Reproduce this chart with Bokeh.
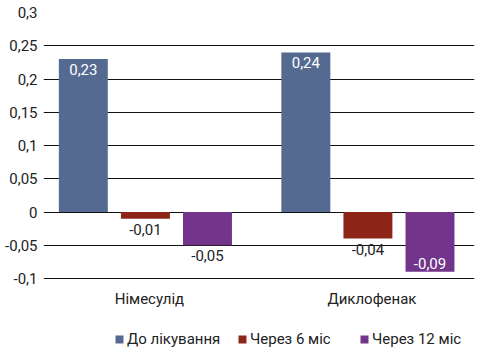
from bokeh.plotting import figure
from bokeh.models import ColumnDataSource, Range1d, FixedTicker, Legend, LegendItem
from bokeh.core.properties import value
from bokeh.embed import file_html
from bokeh.resources import INLINE

categories = ["Німесулід", "Диклофенак"]
series_names = ["До лікування", "Через 6 міс", "Через 12 міс"]
before = [0.23, 0.24]
after6 = [-0.01, -0.04]
after12 = [-0.05, -0.09]
y_ticks = [-0.1, -0.05, 0, 0.05, 0.1, 0.15, 0.2, 0.25, 0.3]

colors = ["#546a91", "#8c2417", "#72358b"]
offsets = [-0.279, 0.0, 0.279]
FONT = "Roboto"
TXT = "#222222"

def fmt(v):
    return ("%g" % v).replace(".", ",")

# frame spans the full lower area; -0.1 sits 76 px above the frame bottom
y_low = -0.1 - 76 / 665.0
p = figure(width=478, height=354, output_backend="svg", toolbar_location=None,
           x_range=Range1d(-0.458, 1.479), y_range=Range1d(y_low, 0.3),
           min_border_left=43, min_border_right=4, min_border_top=12, min_border_bottom=0)
p.outline_line_color = None
p.background_fill_color = "white"
p.border_fill_color = "white"

renderers = []
for j, (name, vals) in enumerate(zip(series_names, [before, after6, after12])):
    xs = [i + offsets[j] for i in range(len(categories))]
    src = ColumnDataSource(dict(x=xs, top=vals, bottom=[0] * len(vals)))
    r = p.vbar(x="x", top="top", bottom="bottom", width=0.22, source=src,
               fill_color=colors[j], line_color=None)
    renderers.append(r)
    for x, v in zip(xs, vals):
        inside = abs(v) >= 0.08
        if v > 0:
            base, off, col = "top", 5, "white"
        elif inside:
            base, off, col = "bottom", -3, "white"
        else:
            base, off, col = "top", 5, TXT
        p.text(x=[x], y=[v], text=[fmt(v)], text_align="center", text_baseline=base,
               y_offset=off, text_color=col, text_font=value(FONT), text_font_size="15px")

# category labels under the lowest grid line
p.text(x=list(range(len(categories))), y=[y_ticks[0]] * len(categories), text=categories,
       text_align="center", text_baseline="middle", x_offset=4, y_offset=20,
       text_color=TXT, text_font=value(FONT), text_font_size="15px")

p.xgrid.visible = False
p.ygrid.grid_line_color = "#111111"
p.ygrid.grid_line_width = 1
p.ygrid.ticker = FixedTicker(ticks=y_ticks)

p.xaxis.visible = False

p.yaxis.ticker = FixedTicker(ticks=y_ticks)
p.yaxis.major_label_overrides = {t: fmt(t) for t in y_ticks}
p.yaxis.axis_line_color = None
p.yaxis.major_tick_line_color = None
p.yaxis.minor_tick_line_color = None
p.yaxis.major_tick_out = 0
p.yaxis.major_tick_in = 0
p.yaxis.minor_tick_out = 0
p.yaxis.major_label_standoff = 6
p.yaxis.major_label_text_font = FONT
p.yaxis.major_label_text_font_size = "15px"
p.yaxis.major_label_text_color = TXT

# one legend entry per series, placed like the reference's evenly spaced columns
legend_x = [71, 194, 316]
for r, name, lx in zip(renderers, series_names, legend_x):
    lg = Legend(items=[LegendItem(label=name, renderers=[r])], orientation="horizontal",
                location=(lx, 6), glyph_width=10, glyph_height=10, label_standoff=3,
                padding=0, margin=0, border_line_color=None, background_fill_alpha=0,
                label_height=16, label_text_font=FONT, label_text_font_size="15px",
                label_text_color=TXT)
    p.add_layout(lg, "center")

open("out.html", "w").write(file_html(p, INLINE))
